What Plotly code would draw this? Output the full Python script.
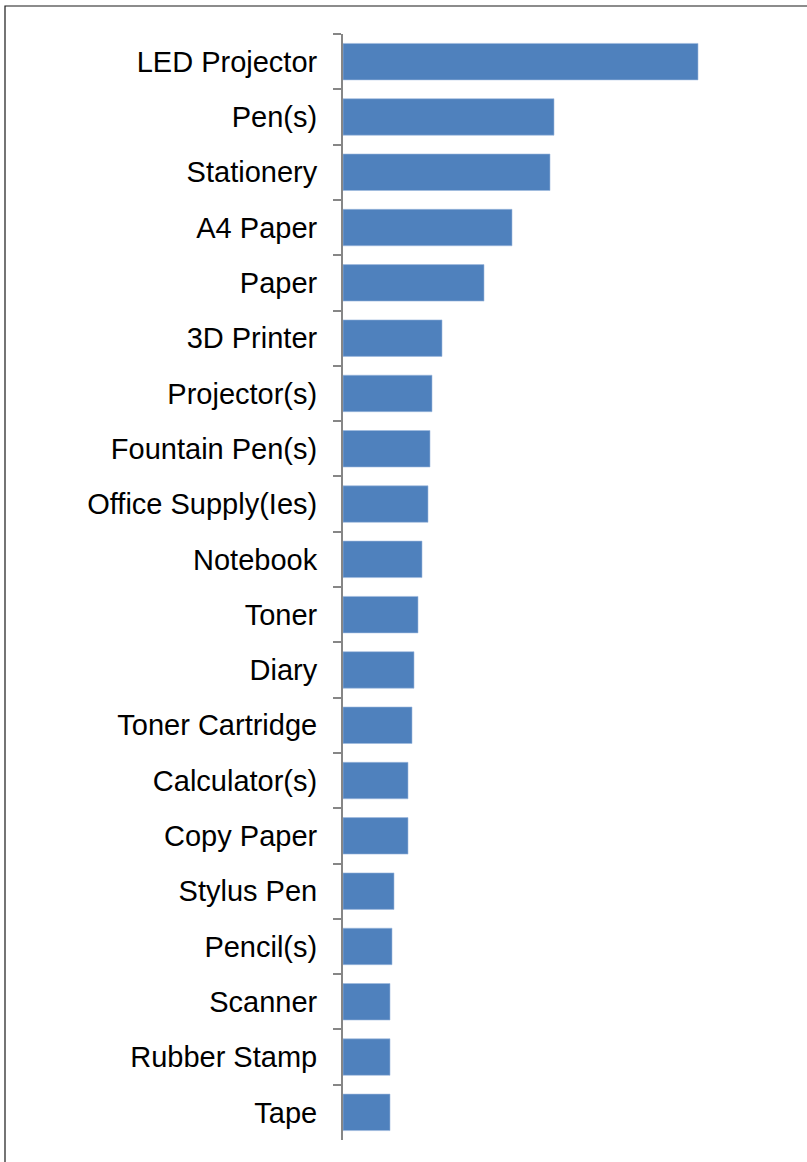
import plotly.graph_objects as go

categories = ["LED Projector", "Pen(s)", "Stationery", "A4 Paper", "Paper", "3D Printer",
              "Projector(s)", "Fountain Pen(s)", "Office Supply(Ies)", "Notebook", "Toner",
              "Diary", "Toner Cartridge", "Calculator(s)", "Copy Paper", "Stylus Pen",
              "Pencil(s)", "Scanner", "Rubber Stamp", "Tape"]
values = [355, 211, 207, 169, 141, 99, 89, 87, 85, 79, 75, 71, 69, 65, 65, 51, 49, 47, 47, 47]

fig = go.Figure(go.Bar(
    x=values, y=categories, orientation="h",
    marker=dict(color="#4F81BD", line=dict(color="#9DB9DE", width=0.6)),
))

W, H = 807, 1162
ml, mr, mt, mb = 343, 17, 34, 22
pw, ph = W - ml - mr, H - mt - mb

fig.update_layout(
    width=W, height=H,
    margin=dict(l=ml, r=mr, t=mt, b=mb, pad=0),
    paper_bgcolor="white", plot_bgcolor="white",
    bargap=0.34,
    showlegend=False,
    font=dict(family="Liberation Sans, Arial, sans-serif", size=29, color="black"),
    xaxis=dict(range=[0, pw], visible=False, showgrid=False, zeroline=False),
    yaxis=dict(
        autorange="reversed", type="category",
        showline=True, linecolor="#868686", linewidth=2,
        ticks="outside", ticklen=8, tickcolor="#868686", tickwidth=2,
        tickson="boundaries", ticklabelstandoff=18,
        showgrid=False, zeroline=False,
        tickfont=dict(size=29, color="black"),
    ),
    shapes=[dict(
        type="rect", xref="paper", yref="paper",
        x0=(5 - ml) / pw, x1=2.0,
        y0=-1.0, y1=1 + (mt - 6) / ph,
        line=dict(color="#1a1a1a", width=1.2), fillcolor="rgba(0,0,0,0)",
        layer="below",
    )],
)

fig.write_html("out.html", config={"displayModeBar": False},
               post_script="document.body.style.margin='0';document.body.style.padding='0';")
